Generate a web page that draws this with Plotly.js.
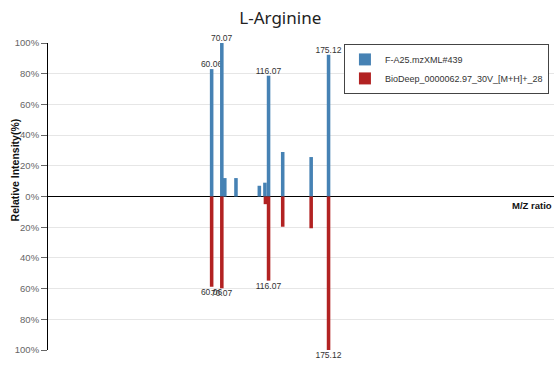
<!DOCTYPE html>
<html>
<head>
<meta charset="utf-8">
<script src="https://cdn.plot.ly/plotly-3.0.1.min.js"></script>
<style>html,body{margin:0;padding:0;background:#fff;}#chart{width:555px;height:365px;}</style>
</head>
<body>
<div id="chart"></div>
<script>
// m/z values and relative intensities (%)
const queryMz = [60.06, 70.07, 73.0, 84.0, 107.0, 112.5, 116.07, 130.0, 158.0, 175.12];
const queryIntensity = [83, 100, 12, 12, 7, 9, 78.7, 29, 25.7, 92.4];
const queryLabels = ["60.06", "70.07", "", "", "", "", "116.07", "", "", "175.12"];

const refMz = [60.06, 70.07, 113.0, 116.07, 130.0, 158.0, 175.12];
const refIntensity = [58.8, 59.8, 5, 54.8, 19.7, 20.7, 100];
const refLabels = ["60.06", "70.07", "", "116.07", "", "", "175.12"];

const seriesNames = ["F-A25.mzXML#439", "BioDeep_0000062.97_30V_[M+H]+_28"];
const tickVals = [-100, -80, -60, -40, -20, 0, 20, 40, 60, 80, 100];
const tickText = ["100%", "80%", "60%", "40%", "20%", "0%", "20%", "40%", "60%", "80%", "100%"];

const font = "Liberation Sans, Arial, sans-serif";
const titleFont = "Noto Sans, Open Sans, sans-serif";

const traces = [
  {
    type: "bar",
    name: seriesNames[0],
    x: queryMz,
    y: queryIntensity,
    width: queryMz.map(() => 3.5),
    text: queryLabels,
    textposition: "outside",
    constraintext: "none",
    cliponaxis: false,
    textfont: {size: 8.5, color: "#333", family: font},
    marker: {color: "#4682B4"},
    hoverinfo: "x+y"
  },
  {
    type: "bar",
    name: seriesNames[1],
    x: refMz,
    y: refIntensity.map(v => -v),
    width: refMz.map(() => 3.5),
    text: refLabels,
    textposition: "outside",
    constraintext: "none",
    cliponaxis: false,
    textfont: {size: 8.5, color: "#333", family: font},
    marker: {color: "#B22222"},
    hoverinfo: "x+y"
  }
];

const layout = {
  width: 555,
  height: 365,
  margin: {l: 48, r: 1, t: 43, b: 15},
  paper_bgcolor: "#fff",
  plot_bgcolor: "#fff",
  font: {family: font, size: 9, color: "#444"},
  barmode: "overlay",
  showlegend: true,
  title: {
    text: "L-Arginine",
    font: {size: 17, color: "#222", family: titleFont},
    xref: "container", x: 0.505, xanchor: "center",
    yref: "container", y: 1 - 18 / 365, yanchor: "middle"
  },
  xaxis: {
    range: [-101, 397],
    showgrid: false,
    zeroline: false,
    showline: false,
    showticklabels: false,
    ticks: ""
  },
  yaxis: {
    range: [-100, 100],
    tickvals: tickVals,
    ticktext: tickText,
    showgrid: true,
    gridcolor: "#e6e6e6",
    gridwidth: 1,
    zeroline: true,
    zerolinecolor: "#000",
    zerolinewidth: 1.2,
    showline: true,
    linecolor: "#000",
    linewidth: 1,
    ticks: "outside",
    ticklen: 6,
    tickcolor: "#666",
    tickfont: {size: 9.5, color: "#666", family: font}
  },
  legend: {
    x: 0.99, xanchor: "right",
    y: 0.997, yanchor: "top",
    bgcolor: "#fff",
    bordercolor: "#444",
    borderwidth: 1,
    font: {size: 9, color: "#333", family: font},
    tracegroupgap: 0
  },
  annotations: [
    {
      text: "<b>M/Z ratio</b>",
      xref: "paper", x: 1, xanchor: "right",
      yref: "y", y: 0, yanchor: "top", yshift: -1,
      showarrow: false,
      font: {size: 9.5, color: "#111", family: font}
    },
    {
      text: "<b>Relative Intensity(%)</b>",
      textangle: -90,
      xref: "paper", x: -33 / 506, xanchor: "center",
      yref: "y", y: 17, yanchor: "middle",
      showarrow: false,
      font: {size: 10.5, color: "#111", family: font}
    }
  ]
};

Plotly.newPlot("chart", traces, layout, {displayModeBar: false, staticPlot: true});
</script>
</body>
</html>
